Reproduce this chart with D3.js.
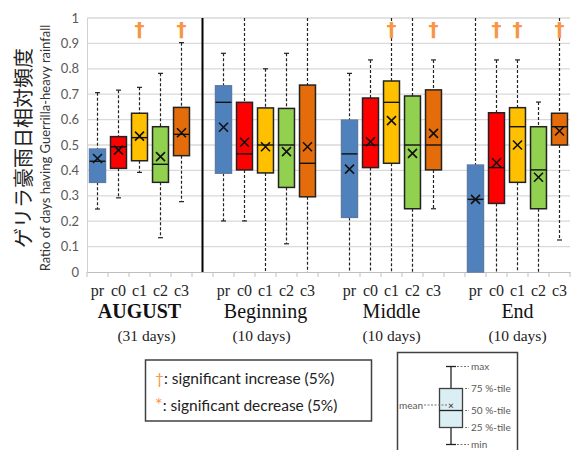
<!DOCTYPE html>
<html><head><meta charset="utf-8">
<script src="https://cdn.jsdelivr.net/npm/d3@7"></script>
<style>body{margin:0;background:#fff}svg{display:block}.serif{font-family:"Liberation Serif","Times New Roman",serif !important}</style>
</head><body>
<script>
// ---- data ----
const groups = ["AUGUST", "Beginning", "Middle", "End"];
const dayLabels = ["(31 days)", "(10 days)", "(10 days)", "(10 days)"];
const scenarios = ["pr", "c0", "c1", "c2", "c3"];
const yTicks = [0, 0.1, 0.2, 0.3, 0.4, 0.5, 0.6, 0.7, 0.8, 0.9, 1];
// order: group by group, pr c0 c1 c2 c3
const maxVals  = [0.706,0.716,0.727,0.782,0.903, 0.861,1.000,0.800,0.861,1.000, 0.782,0.835,1.000,1.000,0.835, 1.000,0.835,0.835,0.669,1.000];
const q3Vals   = [0.484,0.533,0.625,0.572,0.648, 0.733,0.668,0.646,0.644,0.736, 0.598,0.685,0.752,0.693,0.717, 0.421,0.627,0.647,0.572,0.625];
const medVals  = [0.436,0.493,0.529,0.424,0.542, 0.668,0.465,0.500,0.500,0.428, 0.465,0.500,0.668,0.500,0.500, 0.286,0.411,0.572,0.402,0.572];
const q1Vals   = [0.353,0.408,0.438,0.353,0.458, 0.389,0.402,0.390,0.333,0.296, 0.215,0.411,0.428,0.249,0.402, 0.000,0.270,0.353,0.249,0.500];
const minVals  = [0.248,0.292,0.392,0.135,0.277, 0.201,0.201,0.000,0.111,0.000, 0.000,0.000,0.000,0.000,0.249, 0.000,0.000,0.000,0.000,0.126];
const meanVals = [0.447,0.480,0.535,0.454,0.548, 0.570,0.511,0.493,0.474,0.493, 0.405,0.513,0.596,0.467,0.546, 0.286,0.430,0.500,0.373,0.555];
const sigIncrease = [false,false,true,false,true, false,false,false,false,false, false,false,true,false,true, false,true,true,false,true];

const colors = {pr:"#4f81bd", c0:"#ff0000", c1:"#ffc000", c2:"#92d050", c3:"#e46c0a"};
const strokes = {pr:"#5b7ba6", c0:"#222", c1:"#222", c2:"#222", c3:"#222"};

// ---- slots ----
const slots = [];
groups.forEach((g, gi) => {
  scenarios.forEach(s => slots.push(g + "|" + s));
  if (gi < groups.length - 1) slots.push("gap" + gi);
});
const boxes = [];
groups.forEach((g, gi) => scenarios.forEach((s, si) => {
  const i = gi * 5 + si;
  boxes.push({g, s, key: g + "|" + s, max: maxVals[i], q3: q3Vals[i], med: medVals[i], q1: q1Vals[i], min: minVals[i], mean: meanVals[i], sig: sigIncrease[i]});
}));

const W = 571, H = 450;
const svg = d3.select("body").append("svg").attr("width", W).attr("height", H);
svg.append("rect").attr("width", W).attr("height", H).attr("fill", "#fff");

const x = d3.scaleBand().domain(slots).range([87, 570]).paddingInner(0).paddingOuter(0);
const y = d3.scaleLinear().domain([0, 1]).range([272, 18]);
const bw = x.bandwidth() * 0.76;

// gridlines
svg.append("g").selectAll("line").data(yTicks.filter(t => t > 0)).join("line")
  .attr("x1", 87).attr("x2", 570).attr("y1", d => y(d)).attr("y2", d => y(d))
  .attr("stroke", "#d9d9d9").attr("stroke-width", 1.3);

// y axis
const yAxis = svg.append("g").attr("transform", "translate(87,0)")
  .call(d3.axisLeft(y).tickValues(yTicks).tickFormat(d => d === 0 ? "0" : d === 1 ? "1" : d3.format(".1f")(d)).tickSize(0).tickPadding(8));
yAxis.attr("font-family", null);
yAxis.select(".domain").attr("stroke", "#d0d0d0");
yAxis.selectAll("text").style("font-family", "Lato, sans-serif").style("font-size", "13px").attr("fill", "#595959");

// x axis
const xAxis = svg.append("g").attr("transform", "translate(0,272)")
  .call(d3.axisBottom(x).tickSize(0).tickFormat(d => d.startsWith("gap") ? "" : d.split("|")[1]).tickPadding(13));
xAxis.attr("font-family", null).attr("font-size", null);
xAxis.select(".domain").attr("stroke", "#bfbfbf");
xAxis.selectAll("text").attr("class", "serif").style("font-size", "16px").attr("fill", "#262626");
// tick marks at slot boundaries
svg.append("g").selectAll("line").data(slots.concat(["end"])).join("line")
  .attr("x1", d => d === "end" ? 570 : x(d)).attr("x2", d => d === "end" ? 570 : x(d))
  .attr("y1", 272).attr("y2", 277).attr("stroke", "#bfbfbf");

// separator line
svg.append("line").attr("x1", x("gap0") + x.bandwidth() / 2).attr("x2", x("gap0") + x.bandwidth() / 2)
  .attr("y1", y(1)).attr("y2", y(0)).attr("stroke", "#000").attr("stroke-width", 2);

// boxes
const bg = svg.append("g").selectAll("g").data(boxes).join("g")
  .attr("transform", d => `translate(${x(d.key) + x.bandwidth() / 2},0)`);
bg.append("line").attr("y1", d => y(d.max)).attr("y2", d => y(d.q3))
  .attr("stroke", "#222").attr("stroke-width", 1.2).attr("stroke-dasharray", "3,2");
bg.append("line").attr("y1", d => y(d.q1)).attr("y2", d => y(d.min))
  .attr("stroke", "#222").attr("stroke-width", 1.2).attr("stroke-dasharray", "3,2");
bg.filter(d => d.max < 1).append("line").attr("x1", -2.5).attr("x2", 2.5).attr("y1", d => y(d.max)).attr("y2", d => y(d.max)).attr("stroke", "#222").attr("stroke-width", 1.2);
bg.filter(d => d.min > 0).append("line").attr("x1", -2.5).attr("x2", 2.5).attr("y1", d => y(d.min)).attr("y2", d => y(d.min)).attr("stroke", "#222").attr("stroke-width", 1.2);
bg.append("rect").attr("x", -bw / 2).attr("width", bw)
  .attr("y", d => y(d.q3)).attr("height", d => y(d.q1) - y(d.q3))
  .attr("fill", d => colors[d.s]).attr("stroke", d => strokes[d.s]).attr("stroke-width", 1.5);
bg.append("line").attr("x1", -bw / 2).attr("x2", bw / 2).attr("y1", d => y(d.med)).attr("y2", d => y(d.med))
  .attr("stroke", "#111").attr("stroke-width", 1.4);
bg.append("path").attr("d", d => { const c = y(d.mean), r = 4.5; return `M${-r},${c - r}L${r},${c + r}M${-r},${c + r}L${r},${c - r}`; })
  .attr("stroke", "#111").attr("stroke-width", 1.6).attr("fill", "none");
bg.filter(d => d.sig).append("text").attr("y", 36).attr("text-anchor", "middle")
  .style("font-family", "'DejaVu Sans', sans-serif").attr("font-weight", "bold").style("font-size", "20px")
  .attr("fill", "#f79646").text("†");

// group labels
groups.forEach((g, gi) => {
  const first = x(g + "|pr"), last = x(g + "|c3") + x.bandwidth();
  const cx = (first + last) / 2;
  svg.append("text").attr("x", cx).attr("y", 318).attr("text-anchor", "middle").attr("class", "serif")
    .style("font-size", "20px")
    .attr("font-weight", gi === 0 ? "bold" : "normal").attr("fill", "#111").text(g);
  svg.append("text").attr("x", cx + (gi === 0 ? 7 : gi === 1 ? -4 : 0)).attr("y", 341).attr("text-anchor", "middle").attr("class", "serif")
    .style("font-size", "15.5px").attr("fill", "#222").text(dayLabels[gi]);
});

// y axis titles
svg.append("text").attr("transform", "translate(31,148) rotate(-90)").attr("text-anchor", "middle")
  .style("font-family", "'Noto Sans CJK JP', sans-serif").style("font-size", "20px").attr("fill", "#222")
  .text("ゲリラ豪雨日相対頻度");
svg.append("text").attr("transform", "translate(50,148) rotate(-90)").attr("text-anchor", "middle")
  .style("font-family", "Lato, sans-serif").style("font-size", "13px").attr("fill", "#333")
  .text("Ratio of days having Guerrilla-heavy rainfall");

// significance legend
const lg = svg.append("g");
lg.append("rect").attr("x", 145.5).attr("y", 360).attr("width", 226).attr("height", 61)
  .attr("fill", "#fff").attr("stroke", "#404040").attr("stroke-width", 1.5);
const l1 = lg.append("text").attr("x", 155).attr("y", 384).style("font-family", "Lato, sans-serif").style("font-size", "15.5px").attr("fill", "#222");
l1.append("tspan").attr("fill", "#f79646").text("†");
l1.append("tspan").text(": significant increase (5%)");
const l2 = lg.append("text").attr("x", 155).attr("y", 411).style("font-family", "Lato, sans-serif").style("font-size", "15.5px").attr("fill", "#222");
l2.append("tspan").attr("fill", "#f79646").style("font-size", "18px").text("*");
l2.append("tspan").text(": significant decrease (5%)");

// box explanation legend
const ex = svg.append("g");
ex.append("rect").attr("x", 397.5).attr("y", 352.5).attr("width", 120).attr("height", 110)
  .attr("fill", "#fff").attr("stroke", "#404040").attr("stroke-width", 1.5);
const exY = {max: 366.5, q3: 388.5, med: 410.5, q1: 427.5, min: 444.5, mean: 405};
const ecx = 451;
ex.append("line").attr("x1", ecx).attr("x2", ecx).attr("y1", exY.max).attr("y2", exY.min).attr("stroke", "#222").attr("stroke-width", 1.3);
ex.append("line").attr("x1", ecx - 5).attr("x2", ecx + 5).attr("y1", exY.max).attr("y2", exY.max).attr("stroke", "#222").attr("stroke-width", 1.3);
ex.append("line").attr("x1", ecx - 5).attr("x2", ecx + 5).attr("y1", exY.min).attr("y2", exY.min).attr("stroke", "#222").attr("stroke-width", 1.3);
ex.append("rect").attr("x", ecx - 11.5).attr("width", 23).attr("y", exY.q3).attr("height", exY.q1 - exY.q3)
  .attr("fill", "#daeef3").attr("stroke", "#404040").attr("stroke-width", 1.3);
ex.append("line").attr("x1", ecx - 11.5).attr("x2", ecx + 11.5).attr("y1", exY.med).attr("y2", exY.med).attr("stroke", "#222").attr("stroke-width", 1.3);
ex.append("text").attr("x", ecx).attr("y", exY.mean + 3.5).attr("text-anchor", "middle").style("font-family", "Lato, sans-serif").style("font-size", "10px").attr("fill", "#222").text("×");
const dots = [["max", exY.max, ecx + 6, 469], ["q3", exY.q3, ecx + 14, 469], ["med", exY.med, ecx + 14, 469], ["q1", exY.q1, ecx + 14, 469], ["min", exY.min, ecx + 6, 469]];
const dotLabels = {max: "max", q3: "75 %-tile", med: "50 %-tile", q1: "25 %-tile", min: "min"};
dots.forEach(([k, yy, x1, x2]) => {
  ex.append("line").attr("x1", x1).attr("x2", x2).attr("y1", yy).attr("y2", yy).attr("stroke", "#777").attr("stroke-dasharray", "2,1.5");
  ex.append("text").attr("x", x2 + 2).attr("y", yy + 3.5).style("font-family", "Lato, sans-serif").style("font-size", "10px").attr("fill", "#595959").text(dotLabels[k]);
});
ex.append("line").attr("x1", 424).attr("x2", ecx - 3).attr("y1", exY.mean).attr("y2", exY.mean).attr("stroke", "#777").attr("stroke-dasharray", "2,1.5");
ex.append("text").attr("x", 423).attr("y", exY.mean + 3.5).attr("text-anchor", "end").style("font-family", "Lato, sans-serif").style("font-size", "10px").attr("fill", "#595959").text("mean");
</script>
</body></html>
